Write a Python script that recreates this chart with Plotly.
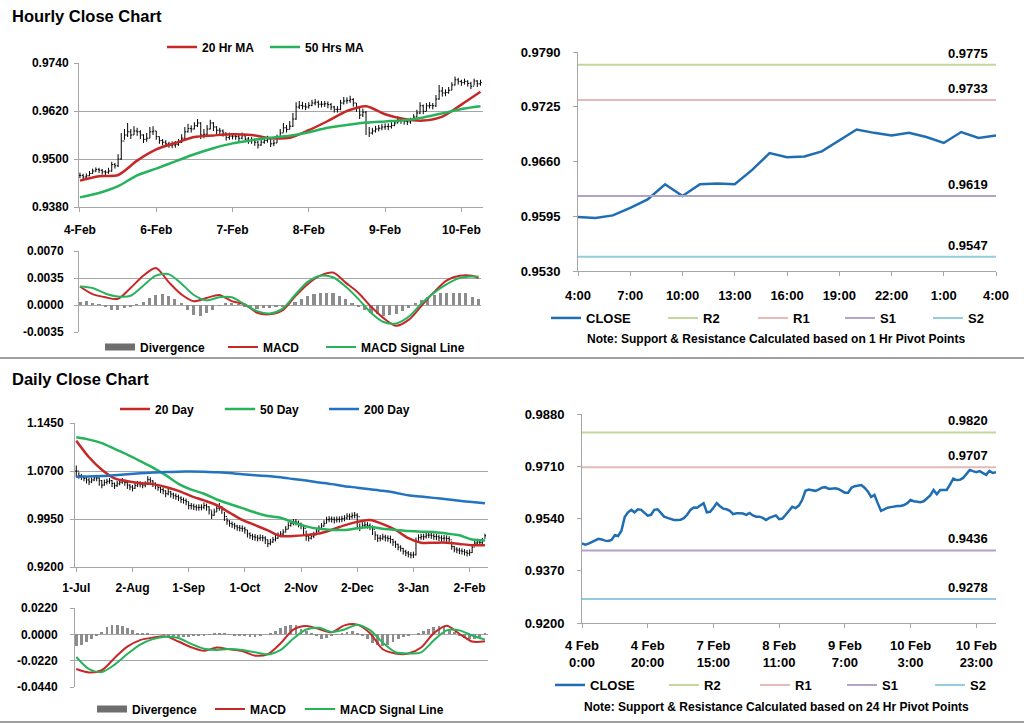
import plotly.graph_objects as go

W, H = 1024, 724
FONT = "Liberation Sans, Arial, sans-serif"

# ---------------- Hourly data (4 Feb 0:00 .. 10/11 Feb 4:00) ----------------
h_close = [
    0.9459, 0.9455, 0.9458, 0.9464, 0.9470, 0.9474, 0.9472, 0.9468, 0.9467, 0.9470,
    0.9486, 0.9483, 0.9500, 0.9545, 0.9560, 0.9568, 0.9560, 0.9570, 0.9568, 0.9560,
    0.9549, 0.9552, 0.9568, 0.9570, 0.9556, 0.9546, 0.9542, 0.9538, 0.9535, 0.9535,
    0.9536, 0.9541, 0.9552, 0.9568, 0.9576, 0.9575, 0.9583, 0.9590, 0.9560, 0.9562,
    0.9575, 0.9590, 0.9580, 0.9572, 0.9570, 0.9565, 0.9554, 0.9557, 0.9557, 0.9556,
    0.9552, 0.9558, 0.9550, 0.9546, 0.9546, 0.9542, 0.9535, 0.9542, 0.9546, 0.9550,
    0.9538, 0.9540, 0.9552, 0.9565, 0.9578, 0.9574, 0.9582, 0.9600, 0.9630, 0.9634,
    0.9632, 0.9630, 0.9634, 0.9640, 0.9642, 0.9637, 0.9637, 0.9638, 0.9636, 0.9630,
    0.9624, 0.9624, 0.9640, 0.9645, 0.9646, 0.9649, 0.9640, 0.9628, 0.9610, 0.9617,
    0.9590, 0.9565, 0.9570, 0.9575, 0.9577, 0.9580, 0.9581, 0.9581, 0.9584, 0.9590,
    0.9600, 0.9596, 0.9594, 0.9593, 0.9596, 0.9605, 0.9615, 0.9633, 0.9619, 0.9633,
    0.9634, 0.9633, 0.9650, 0.9670, 0.9665, 0.9666, 0.9672, 0.9685, 0.9698, 0.9694,
    0.9691, 0.9694, 0.9689, 0.9682, 0.9695, 0.9688, 0.9691]
h_hi = [
    0.9466, 0.9463, 0.9464, 0.9470, 0.9476, 0.9479, 0.9478, 0.9475, 0.9472, 0.9478,
    0.9493, 0.9490, 0.9512, 0.9565, 0.9575, 0.9590, 0.9575, 0.9582, 0.9578, 0.9572,
    0.9562, 0.9565, 0.9580, 0.9582, 0.9570, 0.9556, 0.9550, 0.9547, 0.9543, 0.9544,
    0.9545, 0.9550, 0.9562, 0.9580, 0.9588, 0.9584, 0.9592, 0.9600, 0.9592, 0.9575,
    0.9585, 0.9598, 0.9592, 0.9582, 0.9578, 0.9574, 0.9566, 0.9566, 0.9565, 0.9563,
    0.9561, 0.9566, 0.9562, 0.9555, 0.9555, 0.9551, 0.9545, 0.9550, 0.9553, 0.9558,
    0.9550, 0.9548, 0.9561, 0.9575, 0.9590, 0.9585, 0.9595, 0.9615, 0.9642, 0.9645,
    0.9643, 0.9640, 0.9642, 0.9648, 0.9650, 0.9646, 0.9645, 0.9645, 0.9644, 0.9640,
    0.9633, 0.9632, 0.9648, 0.9655, 0.9654, 0.9658, 0.9652, 0.9640, 0.9630, 0.9626,
    0.9620, 0.9580, 0.9578, 0.9583, 0.9585, 0.9588, 0.9589, 0.9589, 0.9592, 0.9597,
    0.9607, 0.9604, 0.9602, 0.9600, 0.9603, 0.9612, 0.9623, 0.9642, 0.9636, 0.9640,
    0.9642, 0.9640, 0.9660, 0.9685, 0.9680, 0.9674, 0.9680, 0.9692, 0.9706, 0.9703,
    0.9698, 0.9701, 0.9697, 0.9693, 0.9701, 0.9697, 0.9698]
h_lo = [
    0.9452, 0.9449, 0.9451, 0.9457, 0.9463, 0.9467, 0.9465, 0.9461, 0.9460, 0.9463,
    0.9468, 0.9476, 0.9480, 0.9498, 0.9548, 0.9555, 0.9550, 0.9560, 0.9558, 0.9550,
    0.9540, 0.9543, 0.9552, 0.9560, 0.9548, 0.9538, 0.9534, 0.9530, 0.9528, 0.9527,
    0.9528, 0.9533, 0.9540, 0.9550, 0.9566, 0.9566, 0.9574, 0.9580, 0.9550, 0.9552,
    0.9560, 0.9574, 0.9570, 0.9562, 0.9561, 0.9556, 0.9546, 0.9548, 0.9549, 0.9548,
    0.9544, 0.9549, 0.9542, 0.9538, 0.9538, 0.9533, 0.9526, 0.9533, 0.9538, 0.9541,
    0.9530, 0.9532, 0.9540, 0.9550, 0.9566, 0.9566, 0.9574, 0.9580, 0.9598, 0.9625,
    0.9624, 0.9622, 0.9626, 0.9632, 0.9634, 0.9628, 0.9629, 0.9630, 0.9627, 0.9622,
    0.9616, 0.9616, 0.9622, 0.9636, 0.9638, 0.9640, 0.9631, 0.9618, 0.9600, 0.9605,
    0.9560, 0.9555, 0.9561, 0.9566, 0.9569, 0.9572, 0.9573, 0.9572, 0.9576, 0.9582,
    0.9589, 0.9588, 0.9586, 0.9585, 0.9588, 0.9595, 0.9604, 0.9612, 0.9612, 0.9620,
    0.9626, 0.9624, 0.9630, 0.9648, 0.9656, 0.9657, 0.9663, 0.9672, 0.9684, 0.9686,
    0.9683, 0.9686, 0.9681, 0.9675, 0.9684, 0.9680, 0.9683]
h_ticks = ["4-Feb", "6-Feb", "7-Feb", "8-Feb", "9-Feb", "10-Feb"]
h_tick_idx = [0, 24, 48, 72, 96, 120]

h_ma_idx = list(range(0, 127, 6))
h_ma20 = [0.9446, 0.9457, 0.9460, 0.9496, 0.9524, 0.9540, 0.9555, 0.9559, 0.9562, 0.9560, 0.9552,
          0.9553, 0.9572, 0.9595, 0.9620, 0.9632, 0.9612, 0.9600, 0.9596, 0.9606, 0.9636, 0.9668]
h_ma50 = [0.9404, 0.9415, 0.9432, 0.9459, 0.9476, 0.9494, 0.9512, 0.9527, 0.9539, 0.9547, 0.9553,
          0.9558, 0.9567, 0.9578, 0.9585, 0.9591, 0.9594, 0.9597, 0.9604, 0.9614, 0.9625, 0.9632]

h_macd_idx = list(range(0, 125, 4)) + [126]
h_macd = [0.0024, 0.0014, 0.0010, 0.0008, 0.0022, 0.0038, 0.0048, 0.0030, 0.0014, 0.0005, 0.0009,
          0.0013, 0.0005, 0.0001, -0.0010, -0.0012, -0.0007, 0.0011, 0.0027, 0.0038, 0.0042, 0.0029,
          0.0016, -0.0002, -0.0017, -0.0027, -0.0019, -0.0001, 0.0017, 0.0032, 0.0038, 0.0038, 0.0035]
h_signal = [0.0024, 0.0022, 0.0015, 0.0011, 0.0012, 0.0025, 0.0038, 0.0040, 0.0028, 0.0013, 0.0006,
            0.0010, 0.0010, 0.0001, -0.0008, -0.0011, -0.0005, 0.0013, 0.0030, 0.0038, 0.0036, 0.0024,
            0.0008, -0.0010, -0.0022, -0.0024, -0.0015, 0.0002, 0.0016, 0.0027, 0.0035, 0.0037, 0.0037]
h_div_idx = list(range(0, 127, 2))
h_div = [0.0004, 0.0005, 0.0003, 0.0001, -0.0003, -0.0006, -0.0006, -0.0004, -0.0002, 0.0001,
         0.0004, 0.0009, 0.0013, 0.0014, 0.0012, 0.0008, 0.0002, -0.0006, -0.0013, -0.0014,
         -0.0010, -0.0006, -0.0001, 0.0003, 0.0003, 0.0001, -0.0002, -0.0004, -0.0005, -0.0004,
         -0.0004, -0.0003, -0.0002, 0.0000, 0.0004, 0.0008, 0.0012, 0.0014, 0.0015, 0.0016,
         0.0015, 0.0012, 0.0008, 0.0003, -0.0002, -0.0006, -0.0010, -0.0012, -0.0014, -0.0013,
         -0.0012, -0.0008, -0.0004, 0.0002, 0.0006, 0.0010, 0.0013, 0.0015, 0.0016, 0.0016,
         0.0016, 0.0015, 0.0011, 0.0008]
h_macd_ticks = [0.0070, 0.0035, 0.0000, -0.0035]
h_macd_ticktext = ["0.0070", "0.0035", "0.0000", "-0.0035"]

# ---------------- Last 24 hours (top right) ----------------
tr_hours = ["4:00", "5:00", "6:00", "7:00", "8:00", "9:00", "10:00", "11:00", "12:00", "13:00",
            "14:00", "15:00", "16:00", "17:00", "18:00", "19:00", "20:00", "21:00", "22:00",
            "23:00", "0:00", "1:00", "2:00", "3:00", "4:00"]
pivot_1h = {"R2": 0.9775, "R1": 0.9733, "S1": 0.9619, "S2": 0.9547}
pivot_24h = {"R2": 0.9820, "R1": 0.9707, "S1": 0.9436, "S2": 0.9278}
br_ticks = ["4 Feb<br>0:00", "4 Feb<br>20:00", "7 Feb<br>15:00", "8 Feb<br>11:00",
            "9 Feb<br>7:00", "10 Feb<br>3:00", "10 Feb<br>23:00"]

# ---------------- Daily data (1 Jul .. 10 Feb) ----------------
d_close = [
    1.0700, 1.0630, 1.0610, 1.0585, 1.0560, 1.0530, 1.0560, 1.0590, 1.0590, 1.0550,
    1.0480, 1.0520, 1.0540, 1.0550, 1.0505, 1.0470, 1.0500, 1.0525, 1.0550, 1.0520,
    1.0480, 1.0450, 1.0430, 1.0475, 1.0500, 1.0495, 1.0480, 1.0495, 1.0565, 1.0545,
    1.0510, 1.0470, 1.0440, 1.0410, 1.0390, 1.0345, 1.0375, 1.0340, 1.0315, 1.0300,
    1.0280, 1.0255, 1.0240, 1.0220, 1.0160, 1.0155, 1.0140, 1.0130, 1.0132, 1.0135,
    1.0160, 1.0140, 1.0090, 1.0010, 1.0060, 1.0120, 1.0140, 1.0095, 0.9990, 0.9920,
    0.9880, 0.9860, 0.9840, 0.9815, 0.9805, 0.9800, 0.9780, 0.9720, 0.9690, 0.9672,
    0.9665, 0.9650, 0.9660, 0.9655, 0.9625, 0.9565, 0.9590, 0.9625, 0.9650, 0.9695,
    0.9715, 0.9745, 0.9790, 0.9850, 0.9882, 0.9905, 0.9900, 0.9875, 0.9845, 0.9805,
    0.9680, 0.9650, 0.9680, 0.9700, 0.9760, 0.9805, 0.9840, 0.9882, 0.9940, 0.9950,
    0.9945, 0.9935, 0.9945, 0.9945, 0.9955, 0.9965, 0.9995, 0.9985, 1.0005, 1.0010,
    0.9985, 0.9810, 0.9850, 0.9858, 0.9850, 0.9830, 0.9790, 0.9700, 0.9650, 0.9648,
    0.9670, 0.9655, 0.9645, 0.9630, 0.9590, 0.9555, 0.9510, 0.9490, 0.9445, 0.9420,
    0.9400, 0.9387, 0.9390, 0.9600, 0.9660, 0.9675, 0.9672, 0.9695, 0.9700, 0.9690,
    0.9675, 0.9674, 0.9655, 0.9648, 0.9650, 0.9645, 0.9625, 0.9520, 0.9480, 0.9465,
    0.9452, 0.9445, 0.9430, 0.9414, 0.9425, 0.9510, 0.9575, 0.9590, 0.9580, 0.9615,
    0.9690]
d_hi = [
    1.0785, 1.0680, 1.0655, 1.0630, 1.0610, 1.0590, 1.0600, 1.0630, 1.0640, 1.0600,
    1.0560, 1.0565, 1.0580, 1.0590, 1.0560, 1.0520, 1.0545, 1.0570, 1.0590, 1.0570,
    1.0530, 1.0495, 1.0480, 1.0520, 1.0545, 1.0540, 1.0530, 1.0540, 1.0620, 1.0600,
    1.0560, 1.0520, 1.0490, 1.0455, 1.0440, 1.0400, 1.0420, 1.0390, 1.0360, 1.0350,
    1.0330, 1.0305, 1.0285, 1.0270, 1.0220, 1.0200, 1.0190, 1.0175, 1.0180, 1.0180,
    1.0210, 1.0190, 1.0150, 1.0080, 1.0110, 1.0180, 1.0200, 1.0150, 1.0060, 0.9970,
    0.9930, 0.9910, 0.9890, 0.9860, 0.9855, 0.9850, 0.9830, 0.9780, 0.9740, 0.9720,
    0.9715, 0.9700, 0.9710, 0.9700, 0.9680, 0.9630, 0.9640, 0.9670, 0.9700, 0.9740,
    0.9760, 0.9790, 0.9840, 0.9900, 0.9930, 0.9950, 0.9950, 0.9925, 0.9895, 0.9860,
    0.9770, 0.9700, 0.9725, 0.9750, 0.9810, 0.9850, 0.9885, 0.9930, 0.9985, 0.9995,
    0.9990, 0.9985, 0.9990, 0.9990, 1.0000, 1.0010, 1.0040, 1.0035, 1.0050, 1.0060,
    1.0040, 0.9880, 0.9900, 0.9905, 0.9900, 0.9880, 0.9850, 0.9760, 0.9705, 0.9700,
    0.9720, 0.9705, 0.9695, 0.9690, 0.9640, 0.9610, 0.9565, 0.9540, 0.9500, 0.9470,
    0.9450, 0.9435, 0.9440, 0.9660, 0.9710, 0.9720, 0.9720, 0.9745, 0.9750, 0.9740,
    0.9725, 0.9720, 0.9705, 0.9695, 0.9700, 0.9695, 0.9680, 0.9600, 0.9530, 0.9510,
    0.9500, 0.9490, 0.9480, 0.9465, 0.9475, 0.9560, 0.9620, 0.9640, 0.9635, 0.9655,
    0.9720]
d_lo = [
    1.0600, 1.0580, 1.0560, 1.0540, 1.0505, 1.0480, 1.0510, 1.0540, 1.0540, 1.0470,
    1.0430, 1.0470, 1.0490, 1.0500, 1.0450, 1.0420, 1.0450, 1.0475, 1.0500, 1.0470,
    1.0420, 1.0400, 1.0380, 1.0420, 1.0450, 1.0445, 1.0430, 1.0445, 1.0480, 1.0490,
    1.0450, 1.0415, 1.0390, 1.0355, 1.0335, 1.0290, 1.0320, 1.0285, 1.0265, 1.0250,
    1.0230, 1.0200, 1.0190, 1.0165, 1.0100, 1.0100, 1.0090, 1.0080, 1.0080, 1.0085,
    1.0100, 1.0080, 1.0020, 0.9950, 1.0000, 1.0060, 1.0080, 1.0030, 0.9920, 0.9860,
    0.9830, 0.9810, 0.9790, 0.9765, 0.9755, 0.9750, 0.9720, 0.9660, 0.9640, 0.9620,
    0.9610, 0.9600, 0.9610, 0.9600, 0.9560, 0.9510, 0.9540, 0.9575, 0.9600, 0.9640,
    0.9665, 0.9695, 0.9740, 0.9790, 0.9830, 0.9850, 0.9850, 0.9820, 0.9790, 0.9700,
    0.9610, 0.9600, 0.9630, 0.9650, 0.9700, 0.9750, 0.9790, 0.9830, 0.9880, 0.9900,
    0.9895, 0.9880, 0.9895, 0.9895, 0.9900, 0.9915, 0.9940, 0.9935, 0.9955, 0.9960,
    0.9790, 0.9760, 0.9800, 0.9805, 0.9800, 0.9775, 0.9700, 0.9620, 0.9590, 0.9600,
    0.9620, 0.9600, 0.9595, 0.9570, 0.9530, 0.9500, 0.9460, 0.9440, 0.9395, 0.9370,
    0.9350, 0.9335, 0.9340, 0.9380, 0.9610, 0.9625, 0.9620, 0.9645, 0.9650, 0.9640,
    0.9625, 0.9620, 0.9605, 0.9595, 0.9600, 0.9595, 0.9570, 0.9470, 0.9430, 0.9415,
    0.9400, 0.9395, 0.9380, 0.9365, 0.9375, 0.9420, 0.9525, 0.9540, 0.9530, 0.9560,
    0.9640]
d_ticks = ["1-Jul", "2-Aug", "1-Sep", "1-Oct", "2-Nov", "2-Dec", "3-Jan", "2-Feb"]
d_tick_idx = [0, 22, 44, 66, 88, 110, 132, 154]

d_ma_idx = list(range(0, 161, 5))
d_ma20 = [1.1174, 1.0915, 1.0720, 1.0585, 1.0540, 1.0510, 1.0495, 1.0450, 1.0390, 1.0308, 1.0240,
          1.0165, 1.0050, 0.9935, 0.9855, 0.9772, 0.9685, 0.9684, 0.9698, 0.9722, 0.9782, 0.9850,
          0.9905, 0.9933, 0.9870, 0.9780, 0.9650, 0.9580, 0.9580, 0.9580, 0.9560, 0.9540, 0.9540]
d_ma50 = [1.1226, 1.1190, 1.1135, 1.1045, 1.0955, 1.0855, 1.0752, 1.0635, 1.0500, 1.0410, 1.0345,
          1.0255, 1.0185, 1.0120, 1.0052, 0.9997, 0.9970, 0.9895, 0.9835, 0.9796, 0.9780, 0.9778,
          0.9804, 0.9825, 0.9798, 0.9780, 0.9762, 0.9752, 0.9748, 0.9722, 0.9695, 0.9630, 0.9615]
d_ma200 = [1.0611, 1.0615, 1.0620, 1.0635, 1.0650, 1.0664, 1.0675, 1.0685, 1.0690, 1.0692, 1.0690,
           1.0680, 1.0668, 1.0650, 1.0635, 1.0620, 1.0601, 1.0575, 1.0550, 1.0522, 1.0495, 1.0462,
           1.0440, 1.0415, 1.0390, 1.0360, 1.0320, 1.0300, 1.0280, 1.0257, 1.0235, 1.0215, 1.0195]
d_macd = [-0.0290, -0.0318, -0.0300, -0.0197, -0.0103, -0.0048, -0.0027, -0.0017, -0.0060, -0.0108,
          -0.0138, -0.0110, -0.0125, -0.0140, -0.0178, -0.0165, -0.0075, 0.0040, 0.0069, 0.0045,
          0.0017, 0.0075, 0.0081, 0.0010, -0.0125, -0.0160, -0.0161, -0.0110, 0.0010, 0.0072,
          0.0005, -0.0060, -0.0058]
d_signal = [-0.0189, -0.0290, -0.0315, -0.0253, -0.0165, -0.0085, -0.0040, -0.0020, -0.0030, -0.0080,
            -0.0120, -0.0130, -0.0122, -0.0130, -0.0150, -0.0168, -0.0130, -0.0035, 0.0040, 0.0055,
            0.0020, 0.0040, 0.0081, 0.0035, -0.0070, -0.0150, -0.0160, -0.0150, -0.0050, 0.0033,
            0.0033, -0.0010, -0.0044]
d_div_idx = list(range(0, 161, 2))
d_div = [-0.0100, -0.0090, -0.0060, -0.0035, -0.0010, 0.0020, 0.0060, 0.0078, 0.0080, 0.0070,
         0.0055, 0.0035, 0.0015, 0.0008, 0.0005, 0.0002, 0.0000, -0.0005, -0.0010, -0.0018,
         -0.0025, -0.0025, -0.0022, -0.0015, -0.0012, -0.0010, -0.0005, 0.0005, 0.0010, 0.0005,
         -0.0005, -0.0012, -0.0015, -0.0018, -0.0020, -0.0020, -0.0012, 0.0000, 0.0010, 0.0025,
         0.0050, 0.0070, 0.0080, 0.0075, 0.0045, 0.0025, 0.0005, -0.0015, -0.0035, -0.0030,
         -0.0015, -0.0005, 0.0010, 0.0020, 0.0025, 0.0015, -0.0010, -0.0040, -0.0070, -0.0090,
         -0.0100, -0.0085, -0.0060, -0.0040, -0.0025, -0.0010, 0.0000, 0.0010, 0.0025, 0.0045,
         0.0060, 0.0068, 0.0065, 0.0040, 0.0020, -0.0010, -0.0030, -0.0040, -0.0035, -0.0025,
         0.0010]
d_macd_ticks = [0.0220, 0.0000, -0.0220, -0.0440]
d_macd_ticktext = ["0.0220", "0.0000", "-0.0220", "-0.0440"]

# ---------------- styling ----------------
RED = "#c62828"
GREEN = "#27b35c"
BLUE200 = "#2373bf"
CLOSE_BLUE = "#1f6db3"
PIV_COL = {"R2": "#c3d69b", "R1": "#e6b9b8", "S1": "#b3a2c7", "S2": "#93cddd"}
GRID = "#a6a6a6"
DIVC = "#8c8c8c"

lfont_l = dict(family=FONT, size=12, color="black", weight="bold")
lfont_r = dict(family=FONT, size=13, color="black", weight="bold")


def dx(p0, p1):
    return [p0 / W, p1 / W]


def dy(top, bottom):
    return [1 - bottom / H, 1 - top / H]


fig = go.Figure()
legends = {}
_leg_count = [0]


def new_legend(px_x, px_y, font):
    _leg_count[0] += 1
    key = "legend" if _leg_count[0] == 1 else f"legend{_leg_count[0]}"
    legends[key] = dict(orientation="h", x=px_x / W, y=1 - px_y / H, xanchor="left",
                        yanchor="middle", bgcolor="rgba(0,0,0,0)", font=font,
                        itemclick=False, itemdoubleclick=False)
    return key


def line_trace(x, y, name, color, width, xa, ya, leg=None, smooth=True):
    line = dict(color=color, width=width)
    if smooth:
        line.update(shape="spline", smoothing=0.8)
    return go.Scatter(x=x, y=y, mode="lines", name=name, line=line, xaxis=xa, yaxis=ya,
                      showlegend=leg is not None, legend=leg or "legend", hoverinfo="skip")


def legend_swatch(name, color, leg):
    # legend-only entry drawing the wide grey block used for the divergence histogram
    return go.Scatter(x=[None], y=[None], mode="lines", name=name, legend=leg,
                      line=dict(color=color, width=7), hoverinfo="skip")


# ---- Hourly price chart ----
hidx = list(range(len(h_close)))
h_open = [h_close[0]] + h_close[:-1]
fig.add_trace(go.Ohlc(x=hidx, open=h_open, high=h_hi, low=h_lo, close=h_close,
                      xaxis="x", yaxis="y", showlegend=False, hoverinfo="skip", tickwidth=0.4,
                      increasing=dict(line=dict(color="black", width=1)),
                      decreasing=dict(line=dict(color="black", width=1))))
fig.add_trace(line_trace(h_ma_idx, h_ma20, "20 Hr MA", RED, 2.5, "x", "y", new_legend(162, 47, lfont_l)))
fig.add_trace(line_trace(h_ma_idx, h_ma50, "50 Hrs MA", GREEN, 2.5, "x", "y", new_legend(265, 47, lfont_l)))

# ---- Hourly MACD ----
fig.add_trace(go.Bar(x=h_div_idx, y=h_div, width=1.0, marker=dict(color=DIVC, line=dict(width=0)),
                     name="Divergence", showlegend=False, xaxis="x2", yaxis="y2", hoverinfo="skip"))
fig.add_trace(legend_swatch("Divergence", "#6e6e6e", new_legend(100, 347, lfont_l)))
fig.add_trace(line_trace(h_macd_idx, h_macd, "MACD", RED, 2, "x2", "y2", new_legend(223, 347, lfont_l)))
fig.add_trace(line_trace(h_macd_idx, h_signal, "MACD Signal Line", GREEN, 2, "x2", "y2",
                         new_legend(321, 347, lfont_l)))

# ---- Top right: last 24 hours with 1 Hr pivots ----
tr_close = h_close[-len(tr_hours):]
tr_idx = list(range(len(tr_hours)))
fig.add_trace(line_trace(tr_idx, tr_close, "CLOSE", CLOSE_BLUE, 2.5, "x3", "y3",
                         new_legend(546, 318, lfont_r), smooth=False))
for k, lx in zip(["R2", "R1", "S1", "S2"], [663, 753, 840, 928]):
    fig.add_trace(line_trace([tr_idx[0], tr_idx[-1]], [pivot_1h[k]] * 2, k, PIV_COL[k], 2,
                             "x3", "y3", new_legend(lx, 318, lfont_r), smooth=False))

# ---- Daily price chart ----
didx = list(range(len(d_close)))
d_open = [d_close[0]] + d_close[:-1]
fig.add_trace(go.Ohlc(x=didx, open=d_open, high=d_hi, low=d_lo, close=d_close,
                      xaxis="x4", yaxis="y4", showlegend=False, hoverinfo="skip", tickwidth=0.4,
                      increasing=dict(line=dict(color="black", width=1)),
                      decreasing=dict(line=dict(color="black", width=1))))
for name, vals, col, lx in [("20 Day", d_ma20, RED, 115), ("50 Day", d_ma50, GREEN, 220),
                            ("200 Day", d_ma200, BLUE200, 324)]:
    fig.add_trace(line_trace(d_ma_idx, vals, name, col, 2.5, "x4", "y4", new_legend(lx, 409, lfont_l)))

# ---- Daily MACD ----
fig.add_trace(go.Bar(x=d_div_idx, y=d_div, width=1.1, marker=dict(color=DIVC, line=dict(width=0)),
                     name="Divergence", showlegend=False, xaxis="x5", yaxis="y5", hoverinfo="skip"))
fig.add_trace(legend_swatch("Divergence", "#6e6e6e", new_legend(92, 709, lfont_l)))
fig.add_trace(line_trace(d_ma_idx, d_macd, "MACD", RED, 2, "x5", "y5", new_legend(210, 709, lfont_l)))
fig.add_trace(line_trace(d_ma_idx, d_signal, "MACD Signal Line", GREEN, 2, "x5", "y5",
                         new_legend(300, 709, lfont_l)))

# ---- Bottom right: hourly close with 24 Hr pivots ----
fig.add_trace(line_trace(hidx, h_close, "CLOSE", CLOSE_BLUE, 2.5, "x6", "y6",
                         new_legend(550, 685, lfont_r), smooth=False))
for k, lx in zip(["R2", "R1", "S1", "S2"], [664, 755, 842, 930]):
    fig.add_trace(line_trace([hidx[0], hidx[-1]], [pivot_24h[k]] * 2, k, PIV_COL[k], 2,
                             "x6", "y6", new_legend(lx, 685, lfont_r), smooth=False))

# ---------------- axes ----------------
tfont_l = dict(family=FONT, size=12, color="black", weight="bold")
tfont_r = dict(family=FONT, size=13, color="black", weight="bold")


def xax(domain, anchor, rng, tickvals=None, ticktext=None, labels=True, font=tfont_l, standoff=6,
        line=True):
    d = dict(domain=domain, anchor=anchor, range=rng, showgrid=False, zeroline=False,
             showline=line, linecolor=GRID, linewidth=1, ticks="outside" if labels else "",
             ticklen=4, tickcolor=GRID, showticklabels=labels, tickfont=font, fixedrange=True,
             ticklabelstandoff=standoff, automargin=False)
    if tickvals is not None:
        d.update(tickmode="array", tickvals=tickvals, ticktext=ticktext)
    d["rangeslider"] = dict(visible=False)
    return d


def yax(domain, anchor, rng, tickvals, ticktext, grid, font=tfont_l, standoff=3):
    return dict(domain=domain, anchor=anchor, range=rng, tickmode="array", tickvals=tickvals,
                ticktext=ticktext, showgrid=grid, gridcolor=GRID, gridwidth=1, zeroline=False,
                showline=True, linecolor=GRID, linewidth=1, ticks="outside", ticklen=4,
                tickcolor=GRID, tickfont=font, fixedrange=True, ticklabelstandoff=standoff,
                automargin=False)


h_yt = [0.9380, 0.9500, 0.9620, 0.9740]
tr_yt = [0.9530, 0.9595, 0.9660, 0.9725, 0.9790]
d_yt = [0.9200, 0.9950, 1.0700, 1.1450]
br_yt = [0.9200, 0.9370, 0.9540, 0.9710, 0.9880]

layout = dict(
    width=W, height=H, margin=dict(l=0, r=0, t=0, b=0, pad=0, autoexpand=False),
    paper_bgcolor="white", plot_bgcolor="white", showlegend=True, bargap=0,
    xaxis=xax(dx(79, 483), "y", [-0.3, 126.8], h_tick_idx, h_ticks, standoff=8),
    yaxis=yax(dy(63, 207), "x", [0.9380, 0.9740], h_yt, [f"{v:.4f}" for v in h_yt], True),
    xaxis2=xax(dx(79, 481), "y2", [-0.3, 126.8], labels=False, line=False),
    yaxis2=yax(dy(251, 332), "x2", [-0.0035, 0.0070], h_macd_ticks, h_macd_ticktext, True,
               standoff=8),
    xaxis3=xax(dx(578, 996), "y3", [0, 24], list(range(0, 25, 3)),
               [tr_hours[i] for i in range(0, 25, 3)], font=tfont_r, standoff=8),
    yaxis3=yax(dy(52, 271), "x3", [0.9530, 0.9790], tr_yt, [f"{v:.4f}" for v in tr_yt], False,
               font=tfont_r, standoff=10),
    xaxis4=xax(dx(75, 488), "y4", [-0.5, 161.2], d_tick_idx, d_ticks, standoff=6),
    yaxis4=yax(dy(423, 567), "x4", [0.9200, 1.1450], d_yt, [f"{v:.4f}" for v in d_yt], True,
               standoff=4),
    xaxis5=xax(dx(75, 488), "y5", [-0.5, 161.2], labels=False, line=False),
    yaxis5=yax(dy(608, 687), "x5", [-0.0440, 0.0220], d_macd_ticks, d_macd_ticktext, True,
               standoff=10),
    xaxis6=xax(dx(582, 996), "y6", [0, 126], list(range(0, 121, 20)), br_ticks, font=tfont_r,
               standoff=6),
    yaxis6=yax(dy(414, 623), "x6", [0.9200, 0.9880], br_yt, [f"{v:.4f}" for v in br_yt], False,
               font=tfont_r, standoff=10),
)
layout.update(legends)
fig.update_layout(**layout)

# titles and notes
ann = [
    dict(text="Hourly Close Chart", x=10 / W, y=1 - 16 / H, xref="paper", yref="paper",
         xanchor="left", yanchor="middle", showarrow=False,
         font=dict(family=FONT, size=16.5, color="black", weight="bold")),
    dict(text="Daily Close Chart", x=10 / W, y=1 - 379 / H, xref="paper", yref="paper",
         xanchor="left", yanchor="middle", showarrow=False,
         font=dict(family=FONT, size=16.5, color="black", weight="bold")),
    dict(text="Note: Support & Resistance Calculated based on 1 Hr Pivot Points", x=776 / W,
         y=1 - 339 / H, xref="paper", yref="paper", xanchor="center", yanchor="middle",
         showarrow=False, font=dict(family=FONT, size=12, color="black", weight="bold")),
    dict(text="Note: Support & Resistance Calculated based on 24 Hr Pivot Points", x=776 / W,
         y=1 - 707 / H, xref="paper", yref="paper", xanchor="center", yanchor="middle",
         showarrow=False, font=dict(family=FONT, size=12, color="black", weight="bold")),
]
for k in ["R2", "R1", "S1", "S2"]:
    ann.append(dict(text=f"{pivot_1h[k]:.4f}", x=tr_idx[-1], y=pivot_1h[k], xref="x3", yref="y3",
                    xanchor="right", yanchor="bottom", xshift=-6, yshift=2, showarrow=False,
                    font=tfont_r))
    ann.append(dict(text=f"{pivot_24h[k]:.4f}", x=hidx[-1], y=pivot_24h[k], xref="x6", yref="y6",
                    xanchor="right", yanchor="bottom", xshift=-6, yshift=2, showarrow=False,
                    font=tfont_r))
fig.update_layout(annotations=ann)

# separator rules between the two panels
fig.update_layout(shapes=[
    dict(type="line", xref="paper", yref="paper", x0=0, x1=1, y0=1 - 358 / H, y1=1 - 358 / H,
         line=dict(color="#a0a0a0", width=2)),
    dict(type="line", xref="paper", yref="paper", x0=0, x1=1, y0=1 - 722 / H, y1=1 - 722 / H,
         line=dict(color="#a0a0a0", width=2)),
])

fig.write_html("out.html", config={"displayModeBar": False},
               post_script="document.body.style.margin='0px';")
